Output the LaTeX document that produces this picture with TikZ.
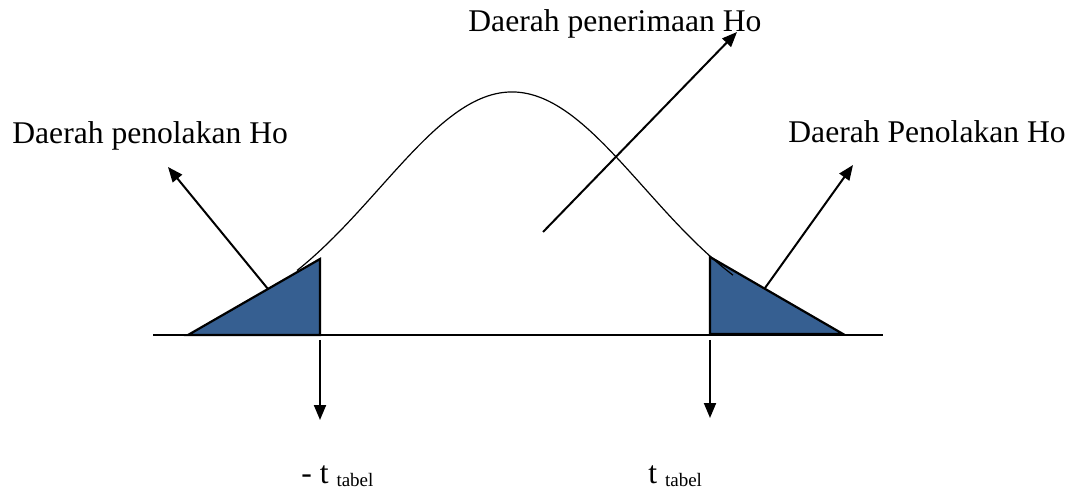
\documentclass[tikz,border=0pt]{standalone}
\usepackage{fontspec}
\setmainfont{Liberation Serif}
\usetikzlibrary{arrows.meta}
\definecolor{rejectFill}{RGB}{54,95,145}
\newcommand{\tsub}[1]{\raisebox{-1.5pt}{\fontsize{9.5}{10}\selectfont #1}}

\begin{document}
\begin{tikzpicture}[
  x=0.5pt, y=-0.5pt,
  every node/.style={inner sep=0pt, anchor=base west, font=\fontsize{15.8}{19}\selectfont},
  >={Triangle[length=7.5pt, width=6pt]}
]
  \useasboundingbox (0,0) rectangle (1075,491);

  % labels
  \node (accept)  at (468,32)  {Daerah penerimaan Ho};
  \node (rejectL) at (12,144)  {Daerah penolakan Ho};
  \node (rejectR) at (788,143) {Daerah Penolakan Ho};
  \node (tLeft)   at (301,483) {- t \tsub{tabel}};
  \node (tRight)  at (648,483) {t \tsub{tabel}};

  % axis
  \coordinate (axisL) at (153,335);
  \coordinate (axisR) at (883,335);
  \draw[line width=0.8pt] (axisL) -- (axisR);

  % rejection areas
  \draw[line width=1.1pt, fill=rejectFill] (188,335) -- (320,259) -- (320,335) -- cycle;
  \draw[line width=1.1pt, fill=rejectFill] (710,257) -- (710,334) -- (843,334) -- cycle;

  % bell curve
  \draw[line width=0.6pt, domain=297:733, samples=120, smooth]
    plot (\x, {335-243*exp(-0.5*((\x-512)/132)^2)});

  % pointers
  \coordinate (fromL) at (268,289);
  \coordinate (toL)   at (168,167);
  \coordinate (fromM) at (543,232);
  \coordinate (toM)   at (737,32);
  \coordinate (fromR) at (765,288);
  \coordinate (toR)   at (853,165);
  \coordinate (cutL)  at (320,340);
  \coordinate (downL) at (320,420);
  \coordinate (cutR)  at (710,340);
  \coordinate (downR) at (710,418);
  \draw[->, line width=1pt] (fromL) -- (toL);
  \draw[->, line width=1pt] (fromM) -- (toM);
  \draw[->, line width=1pt] (fromR) -- (toR);
  \draw[->, line width=1pt] (cutL) -- (downL);
  \draw[->, line width=1pt] (cutR) -- (downR);
\end{tikzpicture}
\end{document}
